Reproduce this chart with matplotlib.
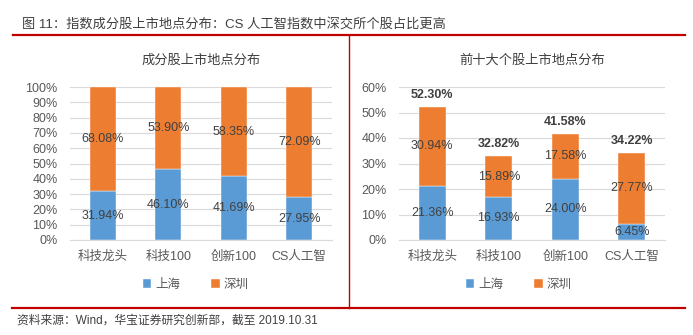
import matplotlib
matplotlib.use('Agg')
import matplotlib.pyplot as plt
import numpy as np

plt.rcParams['font.family'] = ['Liberation Sans', 'Noto Sans CJK SC']

categories = ['科技龙头', '科技100', '创新100', 'CS人工智']
sh_all = [31.94, 46.10, 41.69, 27.95]
sz_all = [68.08, 53.90, 58.35, 72.09]
sh_top10 = [21.36, 16.93, 24.00, 6.45]
sz_top10 = [30.94, 15.89, 17.58, 27.77]
total_top10 = [52.30, 32.82, 41.58, 34.22]

blue = '#5B9BD5'
orange = '#ED7D31'
txt = '#404040'
tick_c = '#595959'
red = '#C00000'

W, H = 693, 335
fig = plt.figure(figsize=(W / 100, H / 100), dpi=100)


def px_axes(x0, x1, y_top, y_bot):
    return fig.add_axes([x0 / W, (H - y_bot) / H, (x1 - x0) / W, (y_bot - y_top) / H])


def style(ax, ymax, step):
    ax.set_xlim(-0.5, 3.5)
    ax.set_ylim(0, ymax)
    ax.set_yticks(np.arange(0, ymax + 0.1, step))
    ax.set_yticklabels(['%d%%' % v for v in np.arange(0, ymax + 0.1, step)])
    ax.set_xticks(range(len(categories)))
    ax.set_xticklabels(categories)
    for s in ['top', 'right', 'left']:
        ax.spines[s].set_visible(False)
    ax.spines['bottom'].set_color('#D9D9D9')
    ax.tick_params(axis='both', length=0, labelsize=9, colors=tick_c)
    ax.tick_params(axis='y', pad=9)
    ax.tick_params(axis='x', pad=8)
    ax.grid(axis='y', color='#D9D9D9', linewidth=0.8)
    ax.set_axisbelow(True)


x = np.arange(len(categories))
fs = 9

# left chart
ax1 = px_axes(70, 332, 87, 240)
ax1.bar(x, sh_all, 0.4, color=blue, edgecolor='white', linewidth=0.3, label='上海')
ax1.bar(x, sz_all, 0.4, bottom=sh_all, color=orange, edgecolor='white', linewidth=0.3, label='深圳')
for i in range(len(x)):
    ax1.text(x[i], sh_all[i] / 2, '%.2f%%' % sh_all[i], ha='center', va='center', fontsize=fs, color=txt)
    ax1.text(x[i], sh_all[i] + sz_all[i] / 2, '%.2f%%' % sz_all[i], ha='center', va='center', fontsize=fs, color=txt)
style(ax1, 100, 10)
ax1.set_title('成分股上市地点分布', fontsize=9.5, color=txt, pad=17)
ax1.legend(loc='upper center', bbox_to_anchor=(0.48, -0.18), ncol=2, frameon=False, fontsize=9,
           handlelength=0.7, handleheight=0.7, handletextpad=0.3, columnspacing=2.5, labelcolor=tick_c)

# right chart
ax2 = px_axes(399, 665, 87, 240)
ax2.bar(x, sh_top10, 0.4, color=blue, edgecolor='white', linewidth=0.3, label='上海')
ax2.bar(x, sz_top10, 0.4, bottom=sh_top10, color=orange, edgecolor='white', linewidth=0.3, label='深圳')
for i in range(len(x)):
    ax2.text(x[i], sh_top10[i] / 2, '%.2f%%' % sh_top10[i], ha='center', va='center', fontsize=fs, color=txt)
    ax2.text(x[i], sh_top10[i] + sz_top10[i] / 2, '%.2f%%' % sz_top10[i], ha='center', va='center', fontsize=fs, color=txt)
    ax2.text(x[i], total_top10[i] + 2.3, '%.2f%%' % total_top10[i], ha='center', va='bottom', fontsize=fs,
             color=txt, fontweight='bold')
style(ax2, 60, 10)
ax2.set_title('前十大个股上市地点分布', fontsize=9.5, color=txt, pad=17)
ax2.legend(loc='upper center', bbox_to_anchor=(0.45, -0.18), ncol=2, frameon=False, fontsize=9,
           handlelength=0.7, handleheight=0.7, handletextpad=0.3, columnspacing=2.5, labelcolor=tick_c)

# frame lines and captions
fig.add_artist(plt.Line2D([13 / W, 685 / W], [(H - 35) / H] * 2, color=red, linewidth=1.6))
fig.add_artist(plt.Line2D([12 / W, 685 / W], [(H - 308) / H] * 2, color=red, linewidth=1.6))
fig.add_artist(plt.Line2D([349 / W, 349 / W], [(H - 35) / H, (H - 308) / H], color=red, linewidth=1.0))
fig.text(22 / W, (H - 24) / H, '图 11：指数成分股上市地点分布：CS 人工智指数中深交所个股占比更高',
         fontsize=9.5, color=txt, va='center')
fig.text(17 / W, (H - 321) / H, '资料来源：Wind，华宝证券研究创新部，截至 2019.10.31',
         fontsize=8.5, color=txt, va='center')

fig.savefig('out.png', dpi=100)
